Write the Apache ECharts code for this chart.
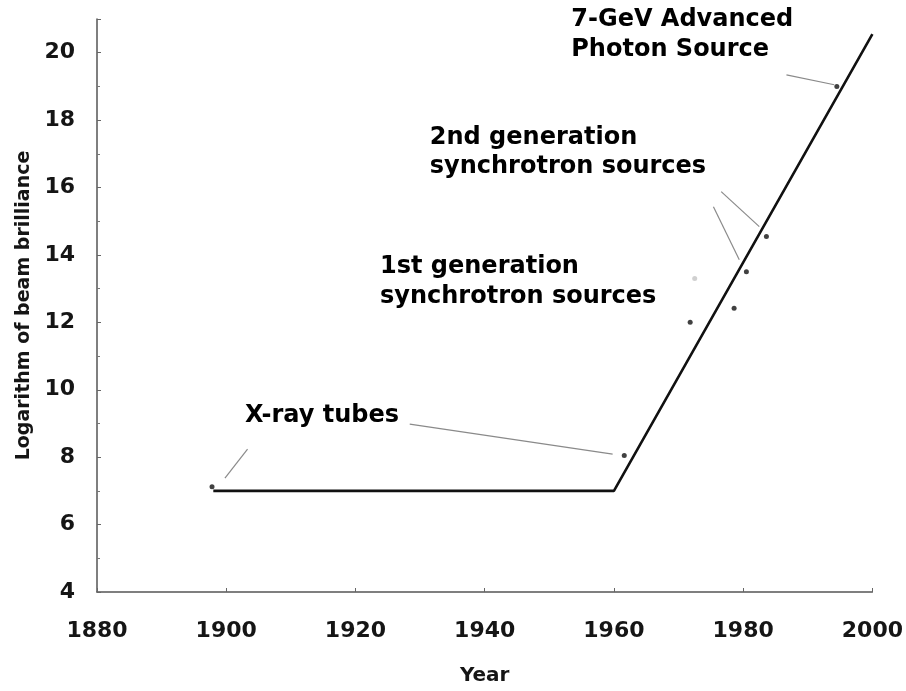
<!DOCTYPE html>
<html>
<head>
<meta charset="utf-8">
<script src="https://cdn.jsdelivr.net/npm/echarts@6/dist/echarts.min.js"></script>
<style>
  html, body { margin: 0; padding: 0; background: #fff; }
  #chart { width: 906px; height: 691px; }
</style>
</head>
<body>
<div id="chart"></div>
<script>
// 坐标轴刻度
const xTicks = [1880, 1900, 1920, 1940, 1960, 1980, 2000];
const yTicks = [4, 6, 8, 10, 12, 14, 16, 18, 20];

// 亮度趋势折线 [年份, 对数亮度]
const trendLine = [[1898, 7.0], [1960, 7.0], [2000, 20.55]];

// 数据点
const sourcePoints = [
    [1897.8, 7.12], [1961.6, 8.05], [1971.8, 12.0], [1978.6, 12.42],
    [1980.5, 13.5], [1983.6, 14.55], [1994.5, 19.0]
];
const faintPoints = [[1972.5, 13.3]];

// 引线（每条两个端点）
const leaderLines = [
    [[1899.8, 7.38], [1903.3, 8.24]],
    [[1928.4, 8.98], [1959.8, 8.09]],
    [[1975.4, 15.43], [1979.4, 13.86]],
    [[1976.6, 15.88], [1982.5, 14.84]],
    [[1986.7, 19.34], [1994.1, 19.05]]
];

// 标注文字 [年份, 值, 文本]
const annotations = [
    [1953.4, 20.97, '7-GeV Advanced'],
    [1953.4, 20.08, 'Photon Source'],
    [1931.5, 17.47, '2nd generation'],
    [1931.5, 16.62, 'synchrotron sources'],
    [1923.8, 13.66, '1st generation'],
    [1923.8, 12.77, 'synchrotron sources'],
    [1902.9, 9.24, 'X-ray tubes']
];

const chart = echarts.init(document.getElementById('chart'));
const font = 'DejaVu Sans';
const textColor = '#151515';

const series = [];

leaderLines.forEach(seg => {
    series.push({
        type: 'line',
        data: seg,
        symbol: 'none',
        silent: true,
        lineStyle: { color: '#8a8a8a', width: 1.2 },
        z: 2
    });
});

series.push({
    name: 'trend',
    type: 'line',
    data: trendLine,
    symbol: 'none',
    lineStyle: { color: '#111', width: 2.6 },
    z: 3
});

series.push({
    type: 'scatter',
    data: sourcePoints,
    symbol: 'circle',
    symbolSize: 5,
    itemStyle: { color: '#111' },
    z: 4
});

series.push({
    type: 'scatter',
    data: faintPoints,
    symbol: 'circle',
    symbolSize: 5,
    itemStyle: { color: '#c4c4c4' },
    z: 1
});

// 标注文字用 graphic 无法跟随坐标，这里用不可见散点承载标签
series.push({
    type: 'scatter',
    data: annotations.map(a => ({ value: [a[0], a[1]], name: a[2] })),
    symbolSize: 0,
    itemStyle: { color: '#fff', opacity: 1 },
    silent: true,
    label: {
        show: true,
        position: [0, 0],
        align: 'left',
        verticalAlign: 'middle',
        formatter: p => p.name,
        fontFamily: font,
        fontWeight: 'bold',
        fontSize: 24,
        color: '#000',
        opacity: 1
    },
    z: 5
});

const option = {
    animation: false,
    backgroundColor: '#fff',
    grid: { left: 97, right: 33, top: 19, bottom: 98 },
    xAxis: {
        type: 'value',
        min: 1880,
        max: 2000,
        interval: 20,
        name: 'Year',
        nameLocation: 'middle',
        nameGap: 74,
        nameTextStyle: { fontFamily: font, fontWeight: 'bold', fontSize: 20, color: textColor },
        axisLine: { lineStyle: { color: '#555', width: 1.5 } },
        axisTick: { inside: true, length: 4, lineStyle: { color: '#666' } },
        splitLine: { show: false },
        axisLabel: {
            margin: 28,
            fontFamily: font,
            fontWeight: 'bold',
            fontSize: 22,
            color: textColor,
            formatter: v => xTicks.includes(v) ? String(v) : ''
        }
    },
    yAxis: {
        type: 'value',
        min: 4,
        max: 21,
        interval: 2,
        name: 'Logarithm of beam brilliance',
        nameLocation: 'middle',
        nameGap: 60,
        nameTextStyle: { fontFamily: font, fontWeight: 'bold', fontSize: 19, color: textColor },
        axisLine: { show: true, lineStyle: { color: '#555', width: 1.5 } },
        axisTick: { inside: true, length: 4, lineStyle: { color: '#666' } },
        minorTick: { show: true, splitNumber: 2, length: 3, lineStyle: { color: '#777' } },
        splitLine: { show: false },
        axisLabel: {
            margin: 22,
            showMaxLabel: false,
            fontFamily: font,
            fontWeight: 'bold',
            fontSize: 22,
            color: textColor,
            formatter: v => yTicks.includes(v) ? String(v) : ''
        }
    },
    series: series
};

chart.setOption(option);
</script>
</body>
</html>
